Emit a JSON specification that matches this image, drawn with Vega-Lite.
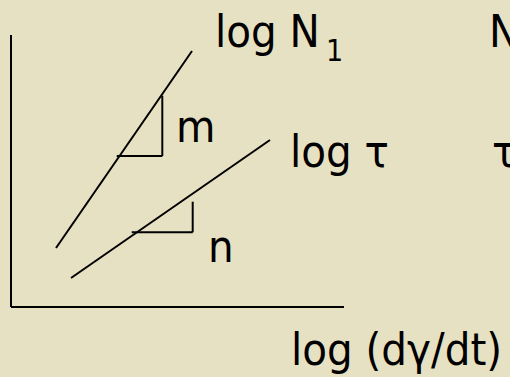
{
  "$schema": "https://vega.github.io/schema/vega-lite/v6.json",
  "width": 510,
  "height": 377,
  "autosize": {"type": "none"},
  "padding": 0,
  "background": "#e7e1c3",
  "config": {"view": {"stroke": null}},
  "datasets": {
    "segments": [
      {"part": "y axis", "x": 0, "y": 27.2, "x2": 0, "y2": 0},
      {"part": "x axis", "x": 0, "y": 0, "x2": 33.3, "y2": 0},
      {"part": "log N1 line", "x": 4.5, "y": 5.9, "x2": 18.1, "y2": 25.6},
      {"part": "slope m rise", "x": 15.13, "y": 21.13, "x2": 15.13, "y2": 15.1},
      {"part": "slope m run", "x": 10.57, "y": 15.1, "x2": 15.13, "y2": 15.1},
      {"part": "log tau line", "x": 6.0, "y": 2.9, "x2": 25.9, "y2": 16.7},
      {"part": "slope n rise", "x": 18.17, "y": 10.53, "x2": 18.17, "y2": 7.47},
      {"part": "slope n run", "x": 12.07, "y": 7.47, "x2": 18.17, "y2": 7.47}
    ],
    "labels": [
      {"text": "log N", "x": 20.4, "y": 26.0},
      {"text": "N", "x": 47.8, "y": 26.0},
      {"text": "m", "x": 16.5, "y": 16.5},
      {"text": "log τ", "x": 27.9, "y": 14.0},
      {"text": "τ", "x": 48.1, "y": 14.0},
      {"text": "n", "x": 19.7, "y": 4.5},
      {"text": "log (dγ/dt)", "x": 28.0, "y": -5.8}
    ],
    "subscripts": [
      {"text": "1", "x": 31.5, "y": 24.6}
    ]
  },
  "layer": [
    {
      "data": {"name": "segments"},
      "mark": {"type": "rule", "color": "black", "strokeWidth": 2},
      "encoding": {
        "x": {"field": "x", "type": "quantitative", "scale": {"domain": [-1.1, 49.9], "nice": false, "zero": false}, "axis": null},
        "y": {"field": "y", "type": "quantitative", "scale": {"domain": [-7, 30.7], "nice": false, "zero": false}, "axis": null},
        "x2": {"field": "x2"},
        "y2": {"field": "y2"}
      }
    },
    {
      "data": {"name": "labels"},
      "mark": {"type": "text", "align": "left", "baseline": "alphabetic", "font": "DejaVu Sans Condensed, DejaVu Sans", "fontSize": 45, "color": "black"},
      "encoding": {
        "x": {"field": "x", "type": "quantitative"},
        "y": {"field": "y", "type": "quantitative"},
        "text": {"field": "text"}
      }
    },
    {
      "data": {"name": "subscripts"},
      "mark": {"type": "text", "align": "left", "baseline": "alphabetic", "font": "DejaVu Sans Condensed, DejaVu Sans", "fontSize": 30, "color": "black"},
      "encoding": {
        "x": {"field": "x", "type": "quantitative"},
        "y": {"field": "y", "type": "quantitative"},
        "text": {"field": "text"}
      }
    }
  ]
}
